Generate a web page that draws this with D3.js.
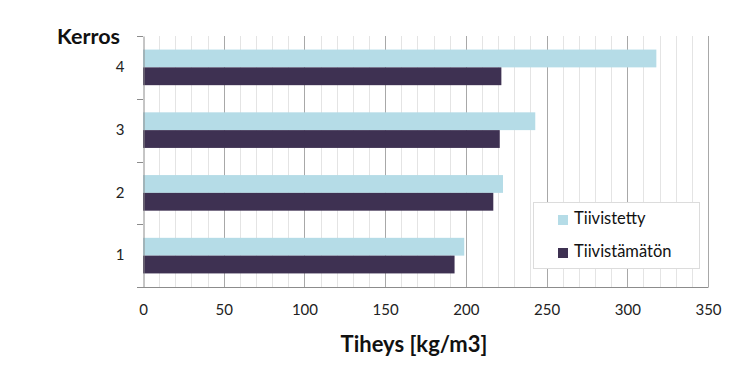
<!DOCTYPE html>
<html>
<head>
<meta charset="utf-8">
<script src="https://cdn.jsdelivr.net/npm/d3@7"></script>
<style>
  html, body { margin: 0; padding: 0; background: #fff; }
  svg { display: block; }
  text { font-family: Lato, "Open Sans", sans-serif; }
</style>
</head>
<body>
<svg id="chart" width="750" height="372"></svg>
<script>
const categories = ["1", "2", "3", "4"];
const seriesNames = ["Tiivistetty", "Tiivistämätön"];
const tiivistetty = [199, 223, 243, 318];
const tiivistamaton = [193, 217, 221, 222];
const xTicks = [0, 50, 100, 150, 200, 250, 300, 350];
const xTitle = "Tiheys [kg/m3]";
const yTitle = "Kerros";
const colors = ["#b5dce7", "#3e3152"];

(function () {
const svg = d3.select("#chart");
const pL = 143, pR = 708, pT = 36, pB = 287;

const x = d3.scaleLinear().domain([0, 350]).range([pL, pR]);
const y = d3.scaleBand().domain(categories.slice().reverse()).range([pT, pB]).paddingInner(0).paddingOuter(0);

// minor gridlines
const minor = d3.range(10, 351, 10).filter(v => v % 50 !== 0);
svg.append("g").selectAll("line").data(minor).join("line")
  .attr("x1", d => Math.round(x(d)) + 0.5).attr("x2", d => Math.round(x(d)) + 0.5)
  .attr("y1", pT).attr("y2", pB)
  .attr("stroke", "#e4e4e4").attr("stroke-width", 1);
// major gridlines
svg.append("g").selectAll("line").data(xTicks.filter(v => v > 0)).join("line")
  .attr("x1", d => Math.round(x(d)) + 0.5).attr("x2", d => Math.round(x(d)) + 0.5)
  .attr("y1", pT).attr("y2", pB)
  .attr("stroke", "#a8a8a8").attr("stroke-width", 1);

// bars
const bw = 17.8;
const groups = categories.map((c, i) => ({c, vals: [tiivistetty[i], tiivistamaton[i]]}));
const g = svg.append("g");
groups.forEach(gr => {
  const cy = y(gr.c) + y.bandwidth() / 2;
  gr.vals.forEach((v, j) => {
    g.append("rect")
      .attr("x", x(0))
      .attr("y", cy - bw + j * bw)
      .attr("width", x(v) - x(0))
      .attr("height", bw)
      .attr("fill", colors[j]);
  });
});

// y axis
const yAxis = d3.axisLeft(y).tickSize(0).tickPadding(19);
const ya = svg.append("g").attr("transform", `translate(${pL + 0.5},0)`).call(yAxis);
ya.select(".domain").attr("stroke", "#8c8c8c");
ya.selectAll("text").attr("font-size", 15).attr("fill", "#222").attr("font-family", "Lato, sans-serif");
// y category boundary ticks
const bounds = d3.range(0, 5).map(i => pT + i * y.bandwidth());
svg.append("g").selectAll("line").data(bounds).join("line")
  .attr("x1", pL - 6).attr("x2", pL)
  .attr("y1", d => Math.round(d) + 0.5).attr("y2", d => Math.round(d) + 0.5)
  .attr("stroke", "#8c8c8c");

// x axis
const xAxis = d3.axisBottom(x).tickValues(xTicks).tickSize(0).tickPadding(17);
const xa = svg.append("g").attr("transform", `translate(0,${pB + 0.5})`).call(xAxis);
xa.select(".domain").remove();
xa.append("line").attr("x1", pL - 6).attr("x2", pR + 0.5).attr("y1", 0).attr("y2", 0).attr("stroke", "#8c8c8c");
xa.selectAll("text").attr("font-size", 15).attr("fill", "#222").attr("font-family", "Lato, sans-serif");

// titles
svg.append("text").attr("x", 120).attr("y", 44).attr("text-anchor", "end")
  .attr("font-size", 21.5).attr("font-weight", "bold").attr("fill", "#111").text(yTitle);
svg.append("text").attr("x", 414).attr("y", 352).attr("text-anchor", "middle")
  .attr("font-size", 22).attr("font-weight", "bold").attr("fill", "#111").text(xTitle);

// legend
const lg = svg.append("g");
lg.append("rect").attr("x", 533.5).attr("y", 202.5).attr("width", 166).attr("height", 66)
  .attr("fill", "#fff").attr("stroke", "#dcdcdc");
seriesNames.forEach((n, i) => {
  const yy = 215 + i * 33;
  lg.append("rect").attr("x", 558).attr("y", yy).attr("width", 10).attr("height", 10).attr("fill", colors[i]);
  lg.append("text").attr("x", 574).attr("y", yy + 8.5).attr("font-size", 16.5).attr("fill", "#111").text(n);
});
})();
</script>
</body>
</html>
